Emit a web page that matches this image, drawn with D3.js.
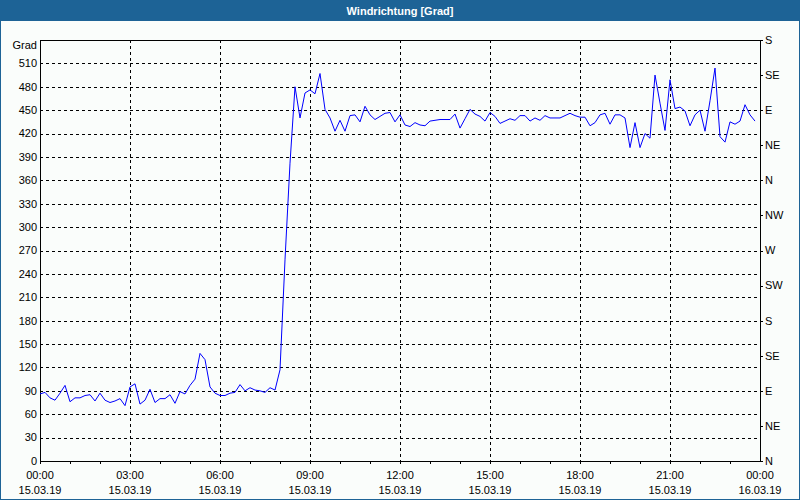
<!DOCTYPE html>
<html>
<head>
<meta charset="utf-8">
<script src="https://cdn.jsdelivr.net/npm/d3@7"></script>
<style>
  body { margin: 0; background: #fff; }
  svg { display: block; font-family: "Liberation Sans", Arial, sans-serif; }
</style>
</head>
<body>
<svg width="800" height="500"></svg>
<script>
// wind direction, one reading every 10 minutes from 15.03.19 00:00
var values = [
  86, 88, 81, 78, 87, 97, 76, 81, 81, 84, 85, 77, 87, 78, 75, 77, 80, 71,
  95, 99, 73, 78, 92, 75, 80, 80, 85, 74, 89, 86, 97, 105, 138, 130, 95, 87,
  84, 84, 87, 88, 98, 90, 94, 91, 90, 88, 94, 91, 117, 258, 382, 480, 440, 472,
  476, 471, 497, 451, 440, 423, 437, 423, 443, 444, 435, 455, 444, 438, 442, 446,
  447, 435, 444, 431, 429, 434, 431, 430, 436, 437, 438, 438, 438, 445, 427, 439,
  451, 445, 442, 436, 447, 442, 433, 436, 439, 437, 443, 443, 436, 440, 437, 443,
  440, 440, 440, 443, 446, 443, 441, 441, 430, 434, 444, 446, 432, 444, 444, 440,
  402, 434, 402, 420, 414, 495, 459, 424, 489, 452, 454, 449, 430, 444, 450, 423,
  462, 504, 416, 409, 435, 432, 436, 457, 444, 436
];
var startTime = new Date(2019, 2, 15, 0, 0);
var endTime = new Date(2019, 2, 16, 0, 0);
var stepMinutes = 10;
var gradTicks = [0, 30, 60, 90, 120, 150, 180, 210, 240, 270, 300, 330, 360, 390, 420, 450, 480, 510];
var compassTicks = [0, 45, 90, 135, 180, 225, 270, 315, 360, 405, 450, 495, 540];
var compassLabels = ["N", "NE", "E", "SE", "S", "SW", "W", "NW", "N", "NE", "E", "SE", "S"];

var svg = d3.select("svg");
// note: "top" is taken by window.top, so use own names
var plotL = 40, plotR = 760, plotT = 40, plotB = 461;
var frameColor = "#1d6396";

var x = d3.scaleTime().domain([startTime, endTime]).range([plotL, plotR]);
var y = d3.scaleLinear().domain([0, 540]).range([plotB, plotT]);
function px(v) { return Math.round(v) + 0.5; }

// background + frame
svg.append("rect").attr("width", 800).attr("height", 500).attr("fill", "#fafdfb");
svg.append("rect").attr("width", 800).attr("height", 21).attr("fill", frameColor);
svg.append("rect")
  .attr("x", 0.5).attr("y", 0.5).attr("width", 799).attr("height", 499)
  .attr("fill", "none").attr("stroke", frameColor);
svg.append("text")
  .attr("x", 400).attr("y", 15)
  .attr("text-anchor", "middle")
  .attr("fill", "#fff")
  .style("font-size", "11px").style("font-weight", "bold")
  .text("Windrichtung [Grad]");

// grid
var grid = svg.append("g").attr("stroke", "#000").attr("stroke-dasharray", "3,3").attr("shape-rendering", "crispEdges");
gradTicks.filter(function(d) { return d > 0; }).forEach(function(d) {
  grid.append("line").attr("x1", plotL).attr("x2", plotR).attr("y1", px(y(d))).attr("y2", px(y(d)));
});
var majorTimes = d3.timeHour.every(3).range(startTime, endTime);
majorTimes.slice(1).forEach(function(t) {
  grid.append("line").attr("x1", px(x(t))).attr("x2", px(x(t))).attr("y1", plotT).attr("y2", plotB);
});

// hour ticks under the time axis, compass ticks on the right
var ticks = svg.append("g").attr("stroke", "#000").attr("shape-rendering", "crispEdges");
d3.timeHour.every(1).range(startTime, endTime).forEach(function(t) {
  ticks.append("line").attr("x1", px(x(t))).attr("x2", px(x(t))).attr("y1", plotB).attr("y2", plotB + 3);
});
compassTicks.forEach(function(d) {
  ticks.append("line").attr("x1", plotR).attr("x2", plotR + 3).attr("y1", px(y(d))).attr("y2", px(y(d)));
});

// plot box
svg.append("rect")
  .attr("x", plotL + 0.5).attr("y", plotT + 0.5)
  .attr("width", plotR - plotL).attr("height", plotB - plotT)
  .attr("fill", "none").attr("stroke", "#000").attr("shape-rendering", "crispEdges");

// labels
var labels = svg.append("g").style("font-size", "11px").attr("fill", "#000");
labels.append("text").attr("x", 37).attr("y", 45).attr("dy", "0.35em").attr("text-anchor", "end").text("Grad");
gradTicks.forEach(function(d) {
  labels.append("text").attr("x", 37).attr("y", y(d)).attr("dy", "0.35em").attr("text-anchor", "end").text(d);
});
compassTicks.forEach(function(d, i) {
  labels.append("text").attr("x", 765).attr("y", y(d)).attr("dy", "0.35em").text(compassLabels[i]);
});
var fmtTime = d3.timeFormat("%H:%M"), fmtDate = d3.timeFormat("%d.%m.%y");
majorTimes.concat([endTime]).forEach(function(t) {
  labels.append("text").attr("x", x(t)).attr("y", 475).attr("dy", "0.35em").attr("text-anchor", "middle").text(fmtTime(t));
  labels.append("text").attr("x", x(t)).attr("y", 490).attr("dy", "0.35em").attr("text-anchor", "middle").text(fmtDate(t));
});

// series
var line = d3.line()
  .x(function(d, i) { return x(d3.timeMinute.offset(startTime, i * stepMinutes)); })
  .y(function(d) { return y(d); });
svg.append("path")
  .datum(values)
  .attr("d", line)
  .attr("fill", "none")
  .attr("stroke", "#0000ff")
  .attr("stroke-width", 1);
</script>
</body>
</html>
